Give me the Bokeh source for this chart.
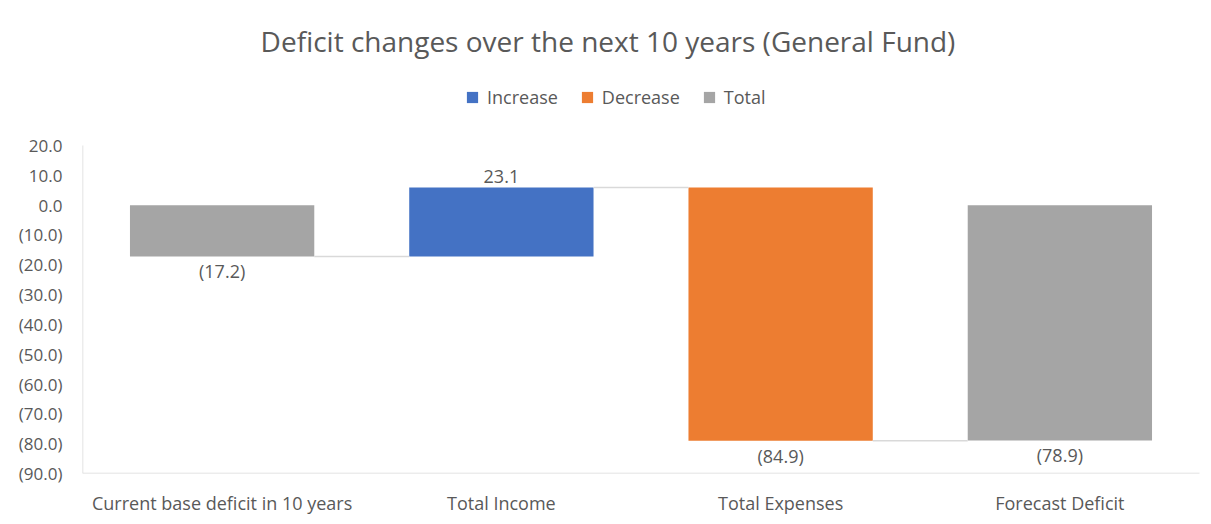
from bokeh.plotting import figure
from bokeh.models import (ColumnDataSource, Range1d, FixedTicker, Legend, LegendItem, Label)
from bokeh.core.properties import value
from bokeh.embed import file_html
from bokeh.resources import INLINE

categories = ["Current base deficit in 10 years", "Total Income", "Total Expenses", "Forecast Deficit"]
changes = [-17.2, 23.1, -84.9, -78.9]
kinds = ["Total", "Increase", "Decrease", "Total"]
y_ticks = [20, 10, 0, -10, -20, -30, -40, -50, -60, -70, -80, -90]
title_text = "Deficit changes over the next 10 years (General Fund)"

colors = {"Increase": "#4472C4", "Decrease": "#ED7D31", "Total": "#A5A5A5"}
FONT = "Open Sans"
TXT = "#595959"
FS = "18px"

# waterfall geometry
xs, bottoms, tops, levels = [], [], [], []
running = 0.0
for i, (v, k) in enumerate(zip(changes, kinds)):
    if k == "Total":
        b, t = 0.0, v
        running = v
    else:
        b, t = running, running + v
        running = running + v
    xs.append(i)
    bottoms.append(b)
    tops.append(t)
    levels.append(running)

def fmt(v):
    return f"({abs(v):.1f})" if v < 0 else f"{v:.1f}"

W, H = 1211, 524
BL, BR, BB, BT = 82, 0, 51, 0
frame_h = H - BB - BT
frame_w = W - BL - BR
px_per_unit = 328 / 110.0
y_lo = min(y_ticks)
y_hi = y_lo + frame_h / px_per_unit
x_lo = -0.5
x_hi = x_lo + frame_w / 279.25

p = figure(width=W, height=H, output_backend="svg", toolbar_location=None,
           x_range=Range1d(x_lo, x_hi), y_range=Range1d(y_lo, y_hi),
           min_border_left=BL, min_border_right=BR, min_border_bottom=BB, min_border_top=BT)
p.outline_line_color = None
p.grid.grid_line_color = None
p.background_fill_color = "white"
p.border_fill_color = "white"
p.title.text = ""

renderers = {}
for kind in ["Increase", "Decrease", "Total"]:
    idx = [i for i, k in enumerate(kinds) if k == kind]
    src = ColumnDataSource(dict(x=[xs[i] for i in idx], top=[tops[i] for i in idx],
                                bottom=[bottoms[i] for i in idx]))
    renderers[kind] = p.vbar(x="x", top="top", bottom="bottom", width=0.66, source=src,
                             fill_color=colors[kind], line_color=None)

# connectors
seg = ColumnDataSource(dict(x0=[xs[i] + 0.33 for i in range(len(xs) - 1)],
                            x1=[xs[i + 1] - 0.33 for i in range(len(xs) - 1)],
                            y=[levels[i] for i in range(len(xs) - 1)]))
p.segment(x0="x0", y0="y", x1="x1", y1="y", source=seg, line_color="#D9D9D9", line_width=1.5)

# axis lines only over the plotted span
p.segment(x0=[-0.5], y0=[min(y_ticks)], x1=[-0.5], y1=[max(y_ticks)], line_color="#D9D9D9", line_width=1.5)
p.segment(x0=[-0.5], y0=[min(y_ticks)], x1=[len(categories) - 0.5], y1=[min(y_ticks)],
          line_color="#D9D9D9", line_width=1.5)

# value labels
up_idx = [i for i, v in enumerate(changes) if v >= 0]
dn_idx = [i for i, v in enumerate(changes) if v < 0]
src_up = ColumnDataSource(dict(x=[xs[i] for i in up_idx], y=[max(tops[i], bottoms[i]) for i in up_idx],
                               t=[fmt(changes[i]) for i in up_idx]))
src_dn = ColumnDataSource(dict(x=[xs[i] for i in dn_idx], y=[min(tops[i], bottoms[i]) for i in dn_idx],
                               t=[fmt(changes[i]) for i in dn_idx]))
p.text(x="x", y="y", text="t", source=src_up, text_font=value(FONT), text_font_size=FS,
       text_color=TXT, text_align="center", text_baseline="bottom", y_offset=-5)
p.text(x="x", y="y", text="t", source=src_dn, text_font=value(FONT), text_font_size=FS,
       text_color=TXT, text_align="center", text_baseline="top", y_offset=3)

# axes
p.yaxis.ticker = FixedTicker(ticks=y_ticks)
p.yaxis.major_label_overrides = {t: fmt(float(t)) for t in y_ticks}
p.xaxis.ticker = FixedTicker(ticks=xs)
p.xaxis.major_label_overrides = {i: c for i, c in enumerate(categories)}
for ax in (p.xaxis[0], p.yaxis[0]):
    ax.major_tick_line_color = None
    ax.minor_tick_line_color = None
    ax.axis_line_color = None
    ax.major_label_text_font = FONT
    ax.major_label_text_color = TXT
p.xaxis.major_label_text_font_size = FS
p.yaxis.major_label_text_font_size = "17px"
p.xaxis.major_label_standoff = 11
p.yaxis.major_label_standoff = 14

legend = Legend(items=[LegendItem(label=k, renderers=[renderers[k]]) for k in ["Increase", "Decrease", "Total"]],
                orientation="horizontal", location=(383, frame_h - 109),
                label_text_font=FONT, label_text_font_size=FS, label_text_color=TXT,
                glyph_width=14, glyph_height=14, label_standoff=8, spacing=22,
                border_line_color=None, background_fill_alpha=0, padding=0, margin=0)
p.add_layout(legend)

title = Label(x=(len(categories) - 1) / 2.0, y=y_hi, x_offset=-33, y_offset=-40, text=title_text,
              text_font=FONT, text_font_size="28px", text_color=TXT,
              text_align="center", text_baseline="middle")
p.add_layout(title)

open("out.html", "w").write(file_html(p, INLINE))
